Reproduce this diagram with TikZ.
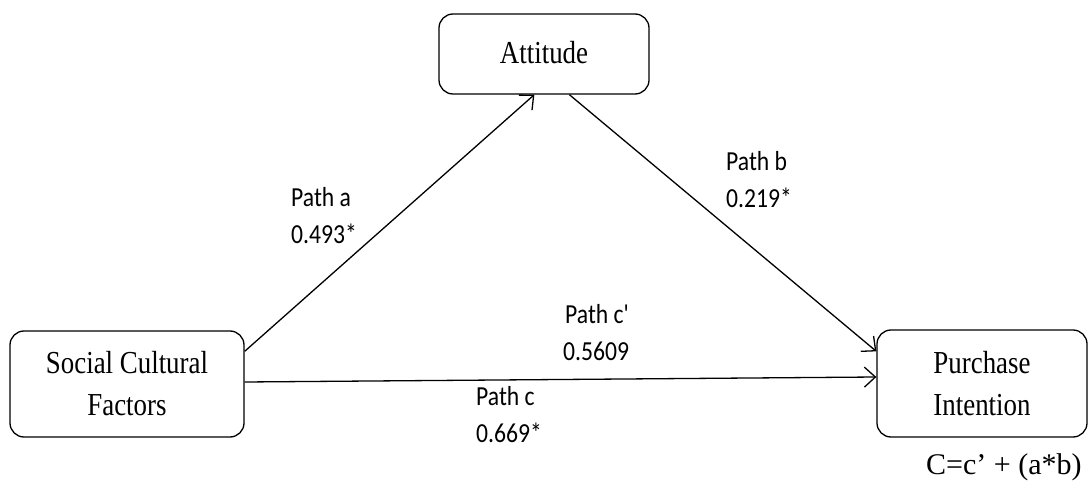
\documentclass[tikz,border=0pt]{standalone}
\usepackage{fontspec}
\setmainfont{Liberation Serif}[FakeStretch=0.84]
\newfontfamily\labfont{Carlito}[FakeStretch=0.86]
\newfontfamily\formfont{Liberation Serif}
\usetikzlibrary{arrows.meta}
\begin{document}
\begin{tikzpicture}[x=1pt,y=-1pt,
  box/.style={draw, line width=1.3pt, rounded corners=14pt, align=center, inner sep=0pt,
    font=\fontsize{32}{42}\selectfont},
  lbl/.style={anchor=west, align=left, inner sep=0pt, font=\labfont\fontsize{27.5}{37}\selectfont},
  arr/.style={line width=1.3pt, -{Straight Barb[length=11pt,width=20pt,line width=1.3pt]}}]
\useasboundingbox (0,0) rectangle (1088,481);
\node[box, minimum width=210pt, minimum height=80pt] (att) at (544,54) {\raisebox{4pt}{Attitude}};
\node[box, minimum width=234pt, minimum height=106pt] (soc) at (127,384) {Social Cultural\\Factors};
\node[box, minimum width=210pt, minimum height=107pt] (pur) at (982,383.5) {Purchase\\Intention};
\draw[arr] ([yshift=-21pt]soc.north east) -- ([xshift=96pt]att.south west);
\draw[arr] ([xshift=131pt]att.south west) -- ([yshift=-22pt]pur.north west);
\draw[arr] ([yshift=2pt]soc.east) -- ([yshift=6.5pt]pur.west);
\node[lbl] (la) at (291,216) {Path a\\0.493*};
\node[lbl] (lb) at (726,180) {Path b\\0.219*};
\node[lbl] (lcp) at (563,333) {\hspace*{2pt}Path c'\\0.5609};
\node[lbl] (lc) at (476,415) {Path c\\0.669*};
\node[anchor=west, inner sep=0pt, font=\formfont\fontsize{30}{36}\selectfont] (f) at (926,467) {C=c’ + (a*b)};
\end{tikzpicture}
\end{document}
